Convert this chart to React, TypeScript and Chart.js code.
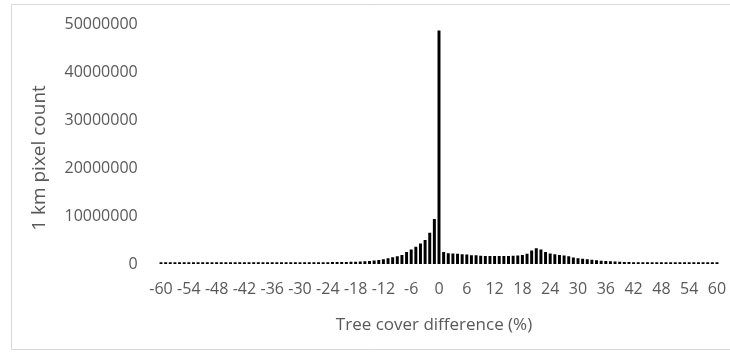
import React, { useEffect, useRef } from "react";
import { Chart, registerables } from "chart.js";

Chart.register(...registerables);

const categories: number[] = [
  -60, -59, -58, -57, -56, -55, -54, -53, -52, -51, -50, -49, -48, -47, -46, -45, -44, -43, -42, -41,
  -40, -39, -38, -37, -36, -35, -34, -33, -32, -31, -30, -29, -28, -27, -26, -25, -24, -23, -22, -21,
  -20, -19, -18, -17, -16, -15, -14, -13, -12, -11, -10, -9, -8, -7, -6, -5, -4, -3, -2, -1,
  0,
  1, 2, 3, 4, 5, 6, 7, 8, 9, 10, 11, 12, 13, 14, 15, 16, 17, 18, 19, 20,
  21, 22, 23, 24, 25, 26, 27, 28, 29, 30, 31, 32, 33, 34, 35, 36, 37, 38, 39, 40,
  41, 42, 43, 44, 45, 46, 47, 48, 49, 50, 51, 52, 53, 54, 55, 56, 57, 58, 59, 60,
];

// pixel counts, -60 .. -1
const negativeCounts: number[] = [
  340000, 340000, 340000, 340000, 340000, 340000, 340000, 340000, 340000, 340000,
  340000, 340000, 340000, 340000, 345000, 345000, 345000, 345000, 345000, 345000,
  350000, 350000, 350000, 350000, 350000, 350000, 355000, 355000, 355000, 355000,
  360000, 360000, 370000, 370000, 380000, 380000, 390000, 400000, 410000, 420000,
  440000, 460000, 490000, 530000, 580000, 640000, 720000, 820000, 1000000, 1200000,
  1400000, 1600000, 1900000, 2500000, 3050000, 3600000, 4300000, 5000000, 6500000, 9400000,
];

// pixel count at 0
const zeroCount: number[] = [48700000];

// pixel counts, 1 .. 60
const positiveCounts: number[] = [
  2500000, 2250000, 2200000, 2150000, 2050000, 2000000, 1850000, 1800000, 1700000, 1650000,
  1650000, 1650000, 1650000, 1650000, 1650000, 1700000, 1750000, 1900000, 2150000, 2800000,
  3300000, 3000000, 2500000, 2200000, 2050000, 1900000, 1750000, 1600000, 1350000, 1200000,
  1100000, 1000000, 900000, 800000, 700000, 620000, 560000, 500000, 450000, 420000,
  400000, 380000, 370000, 360000, 350000, 350000, 345000, 345000, 340000, 340000,
  340000, 340000, 340000, 340000, 340000, 340000, 340000, 340000, 340000, 340000,
];

const yTicks: number[] = [0, 10000000, 20000000, 30000000, 40000000, 50000000];
const xLabelEvery = 6;

const yTitle = "1 km pixel count";
const xTitle = "Tree cover difference (%)";

const TEXT = "#595959";
const FONT = "'Open Sans', 'Noto Sans', sans-serif";

export default function App() {
  const ref = useRef<HTMLCanvasElement | null>(null);

  useEffect(() => {
    if (!ref.current) return;
    const values = [...negativeCounts, ...zeroCount, ...positiveCounts];

    const decor = {
      id: "decor",
      beforeDraw(chart: any) {
        const ctx = chart.ctx;
        ctx.save();
        ctx.fillStyle = "#ffffff";
        ctx.fillRect(0, 0, chart.width, chart.height);
        ctx.strokeStyle = "#d9d9d9";
        ctx.lineWidth = 1;
        ctx.beginPath();
        ctx.moveTo(11.5, 349.5);
        ctx.lineTo(11.5, 4.5);
        ctx.lineTo(740, 4.5);
        ctx.moveTo(11.5, 349.5);
        ctx.lineTo(740, 349.5);
        ctx.stroke();
        ctx.restore();
      },
      afterDraw(chart: any) {
        const ctx = chart.ctx;
        ctx.save();
        ctx.fillStyle = TEXT;
        ctx.textAlign = "center";
        ctx.textBaseline = "middle";
        ctx.font = `17px ${FONT}`;
        ctx.fillText(xTitle, 434, 325);
        ctx.translate(40, 158);
        ctx.rotate(-Math.PI / 2);
        ctx.font = `19px ${FONT}`;
        ctx.fillText(yTitle, 0, 0);
        ctx.restore();
      },
    };

    const chart = new Chart(ref.current, {
      type: "bar",
      data: {
        labels: categories.map(String),
        datasets: [
          {
            data: values,
            backgroundColor: "#000000",
            borderWidth: 0,
            categoryPercentage: 1,
            barPercentage: 0.64,
          },
        ],
      },
      options: {
        animation: false,
        responsive: false,
        devicePixelRatio: 1,
        layout: { padding: { left: 0, right: 10.7, top: 24.3, bottom: 0 } },
        plugins: { legend: { display: false }, tooltip: { enabled: false } },
        scales: {
          x: {
            grid: { display: false, drawTicks: true, tickLength: 16 },
            border: { display: false },
            afterFit: (s: any) => {
              s.height = 88;
            },
            ticks: {
              autoSkip: false,
              maxRotation: 0,
              minRotation: 0,
              padding: 0,
              color: TEXT,
              font: { family: FONT, size: 16 },
              callback: (_v: any, i: number) => (i % xLabelEvery === 0 ? String(categories[i]) : ""),
            },
          },
          y: {
            min: yTicks[0],
            max: yTicks[yTicks.length - 1],
            grid: { display: false, drawTicks: true, tickLength: 21 },
            border: { display: false },
            afterFit: (s: any) => {
              s.width = 158.7;
            },
            afterBuildTicks: (s: any) => {
              s.ticks = yTicks.map((v) => ({ value: v }));
            },
            ticks: {
              padding: 0,
              color: TEXT,
              font: { family: FONT, size: 16 },
              callback: (v: any) => String(v),
            },
          },
        },
      },
      plugins: [decor],
    });
    return () => chart.destroy();
  }, []);

  return (
    <div style={{ position: "fixed", left: 0, top: 0, width: 730, height: 352, background: "#fff" }}>
      <canvas ref={ref} width={730} height={352} style={{ width: 730, height: 352 }} />
    </div>
  );
}
